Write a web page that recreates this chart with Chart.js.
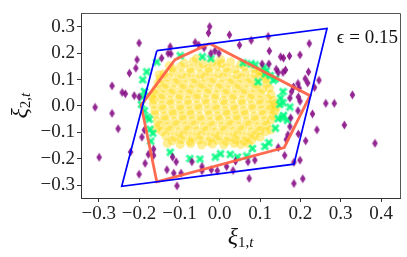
<!DOCTYPE html>
<html>
<head>
<meta charset="utf-8">
<script src="https://cdn.jsdelivr.net/npm/chart.js@4.4.1/dist/chart.umd.min.js"></script>
<style>
  html, body { margin: 0; padding: 0; background: #fff; }
  #wrap { width: 407px; height: 257px; }
</style>
</head>
<body>
<div id="wrap"><canvas id="chart" width="407" height="257"></canvas></div>
<script>
// axis ticks
const xTicks = [-0.3, -0.2, -0.1, 0, 0.1, 0.2, 0.3, 0.4];
const yTicks = [-0.3, -0.2, -0.1, 0, 0.1, 0.2, 0.3];

// blue parallelogram (closed)
const boxPts = [[-0.156, 0.209], [0.266, 0.293], [0.184, -0.220], [-0.243, -0.304], [-0.156, 0.209]];

// orange polygon (closed)
const hullPts = [[-0.025, 0.236], [0.224, 0.039], [0.160, -0.157], [-0.156, -0.287], [-0.195, 0.003], [-0.111, 0.175], [-0.025, 0.236]];

// yellow samples
const yellowPts = [
  [-0.088,0.162],[-0.066,0.168],[-0.041,0.160],[-0.019,0.166],[0.004,0.161],[0.027,0.167],[0.052,0.158],
  [-0.118,0.143],[-0.097,0.149],[-0.074,0.141],[-0.052,0.147],[-0.029,0.142],[-0.007,0.150],[0.016,0.144],[0.038,0.139],[0.061,0.148],[0.085,0.141],
  [-0.138,0.122],[-0.115,0.128],[-0.094,0.121],[-0.071,0.127],[-0.047,0.120],[-0.026,0.129],[-0.003,0.123],[0.019,0.127],[0.043,0.119],[0.064,0.126],[0.088,0.122],[0.107,0.128],
  [-0.147,0.103],[-0.127,0.108],[-0.104,0.101],[-0.082,0.107],[-0.060,0.102],[-0.037,0.109],[-0.015,0.104],[0.008,0.108],[0.031,0.100],[0.053,0.106],[0.076,0.103],[0.097,0.109],[0.114,0.101],
  [-0.153,0.087],[-0.133,0.082],[-0.111,0.088],[-0.089,0.081],[-0.066,0.086],[-0.043,0.083],[-0.021,0.089],[0.002,0.082],[0.024,0.087],[0.047,0.081],[0.069,0.088],[0.091,0.083],[0.117,0.086],
  [-0.158,0.063],[-0.138,0.068],[-0.116,0.061],[-0.094,0.067],[-0.072,0.062],[-0.049,0.069],[-0.027,0.064],[-0.004,0.068],[0.018,0.061],[0.041,0.067],[0.063,0.062],[0.086,0.069],[0.106,0.063],[0.123,0.067],
  [-0.163,0.047],[-0.142,0.042],[-0.121,0.048],[-0.099,0.041],[-0.077,0.046],[-0.055,0.043],[-0.032,0.049],[-0.010,0.042],[0.013,0.047],[0.035,0.041],[0.057,0.048],[0.080,0.043],[0.101,0.047],[0.127,0.044],
  [-0.164,0.023],[-0.145,0.028],[-0.124,0.021],[-0.102,0.027],[-0.080,0.022],[-0.058,0.029],[-0.036,0.024],[-0.013,0.028],[0.009,0.021],[0.031,0.027],[0.054,0.022],[0.076,0.029],[0.098,0.023],[0.118,0.028],[0.133,0.022],
  [-0.165,0.007],[-0.143,0.002],[-0.121,0.008],[-0.099,0.001],[-0.077,0.006],[-0.055,0.003],[-0.033,0.009],[-0.011,0.002],[0.012,0.007],[0.034,0.001],[0.056,0.008],[0.079,0.003],[0.101,0.007],[0.122,0.002],[0.136,0.008],
  [-0.161,-0.017],[-0.140,-0.012],[-0.118,-0.019],[-0.096,-0.013],[-0.074,-0.018],[-0.052,-0.011],[-0.029,-0.016],[-0.007,-0.012],[0.015,-0.019],[0.038,-0.013],[0.060,-0.018],[0.082,-0.011],[0.104,-0.017],[0.125,-0.012],[0.137,-0.020],
  [-0.160,-0.033],[-0.137,-0.038],[-0.115,-0.031],[-0.093,-0.037],[-0.071,-0.032],[-0.049,-0.039],[-0.026,-0.034],[-0.004,-0.038],[0.019,-0.031],[0.041,-0.037],[0.063,-0.032],[0.086,-0.039],[0.108,-0.033],[0.131,-0.036],
  [-0.155,-0.057],[-0.134,-0.052],[-0.112,-0.058],[-0.090,-0.051],[-0.068,-0.056],[-0.045,-0.053],[-0.023,-0.059],[0.000,-0.052],[0.022,-0.057],[0.044,-0.051],[0.067,-0.058],[0.089,-0.053],[0.111,-0.057],[0.128,-0.052],
  [-0.149,-0.073],[-0.128,-0.078],[-0.106,-0.071],[-0.084,-0.077],[-0.062,-0.072],[-0.039,-0.079],[-0.017,-0.074],[0.006,-0.078],[0.028,-0.071],[0.050,-0.077],[0.073,-0.072],[0.095,-0.079],[0.116,-0.073],
  [-0.143,-0.097],[-0.122,-0.092],[-0.100,-0.098],[-0.078,-0.091],[-0.056,-0.096],[-0.033,-0.093],[-0.011,-0.099],[0.012,-0.092],[0.034,-0.097],[0.056,-0.091],[0.079,-0.098],[0.100,-0.093],[0.114,-0.097],
  [-0.134,-0.113],[-0.112,-0.118],[-0.090,-0.111],[-0.068,-0.117],[-0.046,-0.112],[-0.023,-0.119],[-0.001,-0.114],[0.022,-0.118],[0.044,-0.111],[0.066,-0.117],[0.087,-0.112],[0.100,-0.118],
  [-0.118,-0.132],[-0.096,-0.128],[-0.074,-0.134],[-0.051,-0.129],[-0.029,-0.135],[-0.006,-0.130],[0.016,-0.134],[0.039,-0.128],[0.061,-0.133],[0.080,-0.129],
  [-0.098,-0.146],[-0.072,-0.143],[-0.045,-0.148],[-0.018,-0.144],[0.010,-0.147],[0.036,-0.142],[0.052,-0.146],
  [-0.125,0.152],[0.100,0.133],[-0.157,-0.086],[0.127,-0.090],[-0.130,-0.141],[0.071,-0.143],
  [-0.169,0.036],[0.141,-0.004],[-0.058,0.179],[0.002,0.176],[0.112,0.115],[-0.150,0.118]
];

// green X samples (near the polygon boundary)
const greenPts = [
  [-0.098,0.190],[-0.156,0.166],[-0.181,0.129],[-0.191,0.099],[-0.187,0.055],[-0.191,0.034],[-0.194,0.006],
  [-0.043,0.186],[-0.022,0.179],[0.058,0.163],[0.078,0.159],[0.088,0.155],[0.110,0.145],[0.113,0.121],
  [0.095,0.091],[0.125,0.115],[0.138,0.103],[0.157,0.054],[0.151,0.030],[0.157,0.012],[0.158,-0.036],
  [0.145,-0.048],[-0.187,-0.018],[-0.180,-0.042],[-0.175,-0.050],[-0.173,-0.088],[-0.166,-0.103],
  [-0.171,-0.133],[-0.123,-0.175],[-0.074,-0.199],[-0.049,-0.201],[-0.011,-0.193],[0.002,-0.181],
  [0.026,-0.183],[0.044,-0.193],[0.067,-0.189],[0.081,-0.161],[0.112,-0.153],[0.122,-0.139],
  [0.138,-0.084],[0.155,-0.045],[0.168,-0.054],[0.174,-0.004],[0.149,0.006],[0.115,0.133],[0.133,0.097]
];

// purple diamond samples (outliers)
const purplePts = [
  [-0.200,0.238],[-0.123,0.224],[-0.128,0.199],[-0.121,0.197],[-0.144,0.181],[-0.205,0.175],[-0.208,0.143],
  [-0.224,0.124],[-0.267,0.076],[-0.242,0.051],[-0.234,0.046],[-0.212,0.039],[-0.200,0.034],[-0.309,-0.005],
  [-0.267,-0.028],[-0.252,-0.086],[-0.187,-0.091],[-0.193,-0.118],[-0.221,-0.174],[-0.299,-0.194],
  [-0.185,-0.217],[-0.200,-0.258],[-0.164,-0.163],[-0.177,-0.183],[-0.164,-0.187],[-0.131,-0.241],
  [-0.114,-0.254],[-0.117,-0.193],[-0.108,-0.211],[-0.096,-0.254],[-0.106,-0.302],[-0.069,-0.211],
  [-0.044,-0.229],[-0.044,-0.245],[-0.021,-0.241],[-0.006,-0.245],[0.033,-0.244],[0.039,-0.209],
  [0.070,-0.211],[0.087,-0.205],[0.073,-0.274],[0.161,-0.187],[0.145,-0.157],[0.165,-0.127],
  [0.169,-0.109],[0.174,-0.078],[0.176,-0.045],[0.184,-0.293],[0.199,-0.205],[0.184,-0.213],
  [0.206,-0.275],[0.213,-0.132],[0.241,-0.090],[0.230,-0.030],[0.309,-0.072],[0.385,-0.141],
  [0.195,-0.106],[0.194,-0.018],[0.263,0.010],[0.284,0.010],[0.222,0.236],[0.199,0.193],
  [0.220,0.129],[0.212,0.103],[0.218,0.087],[0.194,0.085],[0.197,0.067],[0.246,0.097],[0.235,0.070],
  [0.329,0.042],[0.195,0.034],[0.199,0.018],[0.123,0.208],[0.151,0.186],[0.158,0.181],[0.173,0.189],
  [0.140,0.139],[0.145,0.127],[0.157,0.127],[0.163,0.136],[-0.025,0.300],[-0.028,0.276],[0.024,0.269],
  [0.049,0.230],[0.078,0.248],[0.120,0.263],[-0.061,0.240],[-0.052,0.230],[-0.039,0.220],[-0.022,0.199],
  [-0.012,0.208],[-0.002,0.199],[0.105,0.159],[0.122,0.159],[0.178,0.054],[0.174,0.030],[0.017,-0.229],
  [0.183,0.072]
];

const serif = '"Liberation Serif", "DejaVu Serif", serif';

function toXY(list) {
  return list.map(p => ({ x: p[0], y: p[1] }));
}

// thin diamond marker
function makeDiamond() {
  const c = document.createElement("canvas");
  c.width = 7; c.height = 10;
  const g = c.getContext("2d");
  g.fillStyle = "rgba(128,0,128,0.85)";
  g.beginPath();
  g.moveTo(3.5, 0.5); g.lineTo(6.3, 5); g.lineTo(3.5, 9.5); g.lineTo(0.7, 5);
  g.closePath();
  g.fill();
  return c;
}

// filled X marker
function makeCross() {
  const c = document.createElement("canvas");
  c.width = 9; c.height = 9;
  const g = c.getContext("2d");
  g.translate(4.5, 4.5);
  g.rotate(Math.PI / 4);
  g.fillStyle = "rgba(0,250,127,0.8)";
  g.fillRect(-4.6, -1.5, 9.2, 3.0);
  g.fillRect(-1.5, -4.6, 3.0, 9.2);
  return c;
}

function fmtTick(v) {
  const s = Math.abs(v).toFixed(1);
  return (v < -1e-9 ? "\u2212" : "") + s;
}

function drawParts(ctx, parts) {
  let total = 0;
  parts.forEach(p => { ctx.font = p.font; p.w = ctx.measureText(p.t).width; total += p.w; });
  let x = -total / 2;
  parts.forEach(p => {
    ctx.font = p.font;
    ctx.fillText(p.t, x, p.dy);
    x += p.w;
  });
}

const overlay = {
  id: "overlay",
  afterDraw(chart) {
    const ctx = chart.ctx;
    const a = chart.chartArea;
    ctx.save();
    // top and right spines
    ctx.strokeStyle = "#555";
    ctx.lineWidth = 1;
    ctx.beginPath();
    ctx.moveTo(a.left, Math.round(a.top) + 0.5);
    ctx.lineTo(Math.round(a.right) + 0.5, Math.round(a.top) + 0.5);
    ctx.lineTo(Math.round(a.right) + 0.5, a.bottom);
    ctx.stroke();

    ctx.fillStyle = "#111";
    ctx.textBaseline = "alphabetic";
    // epsilon annotation
    ctx.font = "19px " + serif;
    ctx.textAlign = "right";
    ctx.fillText("\u03F5 = 0.15", 398, 43);
    ctx.textAlign = "left";

    const sub = [
      { t: "\u03BE", font: "italic 24px " + serif, dy: 0 },
      { t: "1,", font: "15px " + serif, dy: 3 },
      { t: "t", font: "italic 15px " + serif, dy: 3 }
    ];
    ctx.save();
    ctx.translate((a.left + a.right) / 2, 244);
    drawParts(ctx, sub);
    ctx.restore();

    const sub2 = [
      { t: "\u03BE", font: "italic 24px " + serif, dy: 0 },
      { t: "2,", font: "15px " + serif, dy: 3 },
      { t: "t", font: "italic 15px " + serif, dy: 3 }
    ];
    ctx.save();
    ctx.translate(27, (a.top + a.bottom) / 2);
    ctx.rotate(-Math.PI / 2);
    drawParts(ctx, sub2);
    ctx.restore();

    ctx.restore();
  }
};

const tickFont = { family: serif, size: 19 };

new Chart(document.getElementById("chart").getContext("2d"), {
  type: "scatter",
  data: {
    datasets: [
      {
        data: toXY(boxPts),
        showLine: true,
        borderColor: "#0000ff",
        borderWidth: 1.7,
        pointRadius: 0,
        fill: false,
        order: 0,
      },
      {
        data: toXY(hullPts),
        showLine: true,
        borderColor: "rgba(255,99,71,0.95)",
        borderWidth: 2.8,
        pointRadius: 0,
        fill: false,
        order: 1,
      },
      {
        data: toXY(purplePts),
        pointStyle: makeDiamond(),
        pointRadius: 4,
        order: 2,
      },
      {
        data: toXY(greenPts),
        pointStyle: makeCross(),
        pointRadius: 5,
        order: 3,
      },
      {
        data: toXY(yellowPts),
        pointStyle: "circle",
        pointRadius: 4.5,
        backgroundColor: "rgba(255,215,0,0.42)",
        borderWidth: 0,
        order: 4,
      },
    ],
  },
  options: {
    responsive: false,
    animation: false,
    events: [],
    layout: { padding: { left: 0, right: 7, top: 5, bottom: 0 } },
    plugins: {
      legend: { display: false },
      tooltip: { enabled: false },
    },
    scales: {
      x: {
        type: "linear",
        min: -0.344,
        max: 0.447,
        afterBuildTicks: (scale) => { scale.ticks = xTicks.map(v => ({ value: v })); },
        afterFit: (scale) => { scale.height = 59; },
        ticks: {
          autoSkip: false,
          maxRotation: 0,
          padding: 1,
          color: "#222",
          font: tickFont,
          callback: (v) => fmtTick(v),
        },
        grid: { drawOnChartArea: false, drawTicks: true, tickLength: 4, color: "#333" },
        border: { display: true, color: "#333", width: 1 },
      },
      y: {
        type: "linear",
        min: -0.348,
        max: 0.350,
        afterBuildTicks: (scale) => { scale.ticks = yTicks.map(v => ({ value: v })); },
        afterFit: (scale) => { scale.width = 81; },
        ticks: {
          autoSkip: false,
          padding: 2,
          color: "#222",
          font: tickFont,
          callback: (v) => fmtTick(v),
        },
        grid: { drawOnChartArea: false, drawTicks: true, tickLength: 4, color: "#333" },
        border: { display: true, color: "#333", width: 1 },
      },
    },
  },
  plugins: [overlay],
});
</script>
</body>
</html>
